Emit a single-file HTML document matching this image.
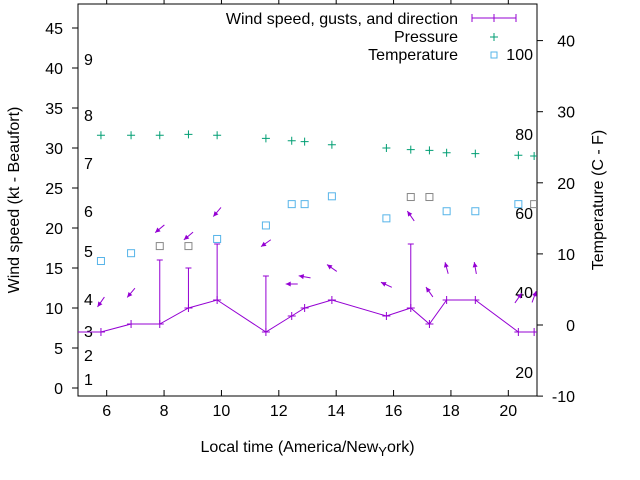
<!DOCTYPE html>
<html><head><meta charset="utf-8"><style>
body{margin:0;background:#fff}
svg{display:block;font-family:"Liberation Sans",sans-serif}
</style></head><body>
<svg id="c" width="640" height="480"></svg>
<script>
const times=[5.8,6.85,7.85,8.85,9.85,11.55,12.45,12.9,13.85,15.75,16.6,17.25,17.85,18.85,20.35,20.9];
const speed=[7,8,8,10,11,7,9,10,11,9,10,8,11,11,7,7];
const gusts=[null,null,16,15,18,14,null,null,null,null,18,null,null,null,null,null];
const arrowY=[10.75,11.9,19.9,19,22,18.1,13,13.9,15,12.9,21.5,12,15,15,11.25,11.4];
const windDir=[35,40,50,50,40,55,90,100,125,115,145,145,165,170,215,200];
const pressure=[31.6,31.6,31.6,31.7,31.6,31.2,30.9,30.8,30.4,30.0,29.8,29.7,29.4,29.3,29.1,29.0];
const temperature=[9,10.1,11.1,11.1,12.1,14,17,17,18.1,15,18,18,16,16,17,17];
const tempGray=[0,0,1,1,0,0,0,0,0,0,1,1,0,0,0,1];
const xTicks=[6,8,10,12,14,16,18,20];
const yTicks=[0,5,10,15,20,25,30,35,40,45];
const y2Ticks=[-10,0,10,20,30,40];
const beaufort=[[1,379],[2,355],[3,331],[4,299],[5,251],[6,211],[7,163],[8,115],[9,59]];
const fahr=[[20,372],[40,292],[60,213],[80,134],[100,54]];

const L=78,R=537,T=4,B=396;
const X=v=>L+(v-5)/16*(R-L);
const Y=v=>388-v*8;
const Y2=v=>325-v*7.11;
const svg=document.getElementById('c');
const NS='http://www.w3.org/2000/svg';
function mk(tag,attrs,parent){const e=document.createElementNS(NS,tag);for(const k in attrs)e.setAttribute(k,attrs[k]);(parent||svg).appendChild(e);return e;}
function txt(x,y,s,anchor,size,parent){const e=mk('text',{x:x,y:y,'text-anchor':anchor||'middle','font-size':size||16,fill:'#000'},parent);e.textContent=s;return e;}

const fr=mk('rect',{x:L,y:T,width:R-L,height:B-T,fill:'none',stroke:'#000','stroke-width':1});



const xa=mk('g',{});


xTicks.forEach(t=>{const x=X(t);mk('line',{x1:x,x2:x,y1:B,y2:B-6,stroke:'#000'},xa);mk('line',{x1:x,x2:x,y1:T,y2:T-6,stroke:'#000'},xa);txt(x,B+20,String(t),'middle',16,xa);});
const ya=mk('g',{});


yTicks.forEach(t=>{const y=Y(t);mk('line',{x1:L,x2:L-6,y1:y,y2:y,stroke:'#000'},ya);txt(L-15,y+6,String(t),'end',16,ya);});
const y2a=mk('g',{});


y2Ticks.forEach(t=>{const y=Y2(t);mk('line',{x1:R,x2:R+6,y1:y,y2:y,stroke:'#000'},y2a);txt(R+38,y+6,String(t),'end',16,y2a);});

const bf=mk('g',{});


beaufort.forEach(b=>txt(84,b[1]+6,String(b[0]),'start',16,bf));
const fh=mk('g',{});


fahr.forEach(f=>txt(533,f[1]+6,String(f[0]),'end',16,fh));

const xt=txt((L+R)/2,452,'','middle',16);


xt.innerHTML='Local time (America/New<tspan dy="4" font-size="13">Y</tspan><tspan dy="-4">ork)</tspan>';
const yt=txt(0,0,'Wind speed (kt - Beaufort)','middle',16);
yt.setAttribute('transform','translate(19,200) rotate(-90)');


const y2t=txt(0,0,'Temperature (C - F)','middle',16);
y2t.setAttribute('transform','translate(603,200) rotate(-90)');



const P='#9400d3',G='#009e73',BL='#56b4e9',GR='#888';
const clip=mk('clipPath',{id:'pc'});mk('rect',{x:L,y:T,width:R-L,height:B-T},clip);
const plot=mk('g',{'clip-path':'url(#pc)'});

let pts=[[L,Y(speed[0])]].concat(times.map((t,i)=>[X(t),Y(speed[i])]));pts.push([R,Y(speed[speed.length-1])]);
const wl=mk('polyline',{points:pts.map(p=>p.join(',')).join(' '),fill:'none',stroke:P,'stroke-width':1},plot);


times.forEach((t,i)=>{
 const x=X(t),y=Y(speed[i]);
 const m=mk('path',{d:`M${x-4},${y}h8M${x},${y-4}v8`,stroke:P},plot);
 
 
 if(gusts[i]!=null){const gy=Y(gusts[i]);
  const g=mk('path',{d:`M${x},${y}V${gy}M${x-3},${gy}h6`,stroke:P},plot);
  
  }
 const th=(windDir[i]+180)*Math.PI/180,dx=Math.sin(th),dy=-Math.cos(th),len=12;
 const cx=x,cy=Y(arrowY[i]);
 const x1=cx-dx*len/2,y1=cy-dy*len/2,x2=cx+dx*len/2,y2=cy+dy*len/2;
 const px=-dy,py=dx;
 const a=mk('g',{},plot);
 
 
 mk('line',{x1:x1,y1:y1,x2:x2,y2:y2,stroke:P},a);
 mk('polygon',{points:`${x2},${y2} ${x2-dx*5+px*2.5},${y2-dy*5+py*2.5} ${x2-dx*5-px*2.5},${y2-dy*5-py*2.5}`,fill:P},a);
 const px2=X(t),py2=Y(pressure[i]);
 const pm=mk('path',{d:`M${px2-4},${py2}h8M${px2},${py2-4}v8`,stroke:G},plot);
 
 
 const ty=Y2(temperature[i]);
 const tm=mk('rect',{x:x-3.5,y:ty-3.5,width:7,height:7,fill:'none',stroke:tempGray[i]?GR:BL},plot);
 
 
});

const lg=mk('g',{});


txt(458,24,'Wind speed, gusts, and direction','end',16,lg);
txt(458,42,'Pressure','end',16,lg);
txt(458,60,'Temperature','end',16,lg);
mk('path',{d:'M472,18h44M472,14v8M516,14v8M494,14v8',stroke:P},lg);
mk('path',{d:'M490,37h8M494,33v8',stroke:G},lg);
mk('rect',{x:491,y:52,width:6,height:6,fill:'none',stroke:BL},lg);
</script>
</body></html>
